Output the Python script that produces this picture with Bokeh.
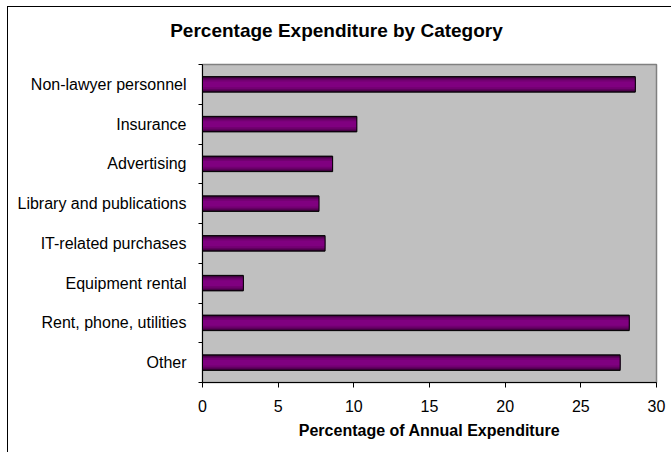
from bokeh.plotting import figure
from bokeh.models import FixedTicker, Div
from bokeh.layouts import column
from bokeh.embed import file_html
from bokeh.resources import INLINE

# Data (bottom to top as drawn)
categories = ["Other", "Rent, phone, utilities", "Equipment rental", "IT-related purchases",
              "Library and publications", "Advertising", "Insurance", "Non-lawyer personnel"]
values = [27.6, 28.2, 2.7, 8.1, 7.7, 8.6, 10.2, 28.6]
x_ticks = [0, 5, 10, 15, 20, 25, 30]
title_text = "Percentage Expenditure by Category"

n = len(categories)
ypos = [i + 0.5 for i in range(n)]
bounds = [float(i) for i in range(n + 1)]

FONT = "Liberation Sans"
TITLE_H = 48

p = figure(width=663, height=445 - TITLE_H, output_backend="svg", toolbar_location=None,
           x_range=(0, 30), y_range=(0, n),
           min_border_left=194, min_border_top=57 - TITLE_H, min_border_right=15, min_border_bottom=70)

p.background_fill_color = "#C0C0C0"
p.border_fill_color = "white"
p.outline_line_color = "#808080"
p.outline_line_width = 1.5
p.xgrid.visible = False
p.ygrid.visible = False

# bars with simulated cylinder shading
shades = [(0.39, "#2a0029"), (0.35, "#480047"), (0.29, "#5f005e"), (0.23, "#720071"), (0.15, "#800080")]
for h, c in shades:
    p.hbar(y=ypos, right=values, left=0, height=h, fill_color=c, line_color=None)
p.hbar(y=ypos, right=values, left=0, height=0.39, fill_color=None, line_color="black", line_width=1)

# x axis
xa = p.xaxis[0]
xa.ticker = FixedTicker(ticks=x_ticks)
xa.minor_tick_line_color = None
xa.major_tick_in = 0
xa.major_tick_out = 5
xa.axis_line_color = "black"
xa.major_tick_line_color = "black"
xa.major_label_text_font = FONT
xa.major_label_text_font_size = "16px"
xa.major_label_text_color = "black"
xa.major_label_standoff = 12
xa.axis_label = "Percentage of Annual Expenditure"
xa.axis_label_text_font = FONT
xa.axis_label_text_font_size = "16px"
xa.axis_label_text_font_style = "bold"
xa.axis_label_text_color = "black"
xa.axis_label_standoff = 7

# y axis: labels at centers, ticks at boundaries
ya = p.yaxis[0]
ya.ticker = FixedTicker(ticks=ypos, minor_ticks=bounds)
ya.major_label_overrides = {y: c for y, c in zip(ypos, categories)}
ya.major_tick_in = 0
ya.major_tick_out = 0
ya.minor_tick_in = 0
ya.minor_tick_out = 4
ya.minor_tick_line_color = "black"
ya.axis_line_color = "black"
ya.major_label_text_font = FONT
ya.major_label_text_font_size = "16px"
ya.major_label_text_color = "black"
ya.major_label_standoff = 12

title = Div(text=title_text, width=663, height=TITLE_H, margin=0,
            styles={"font-family": FONT, "font-size": "19px", "font-weight": "bold",
                    "color": "black", "text-align": "center", "padding-top": "13px",
                    "box-sizing": "border-box", "line-height": "22px", "padding-right": "6px"})

layout = column(title, p, spacing=0)
layout.styles = {"margin-left": "7px", "margin-top": "6px", "background-color": "white",
                 "border-left": "1px solid black", "border-top": "1px solid black"}

open("out.html", "w").write(file_html(layout, INLINE))
